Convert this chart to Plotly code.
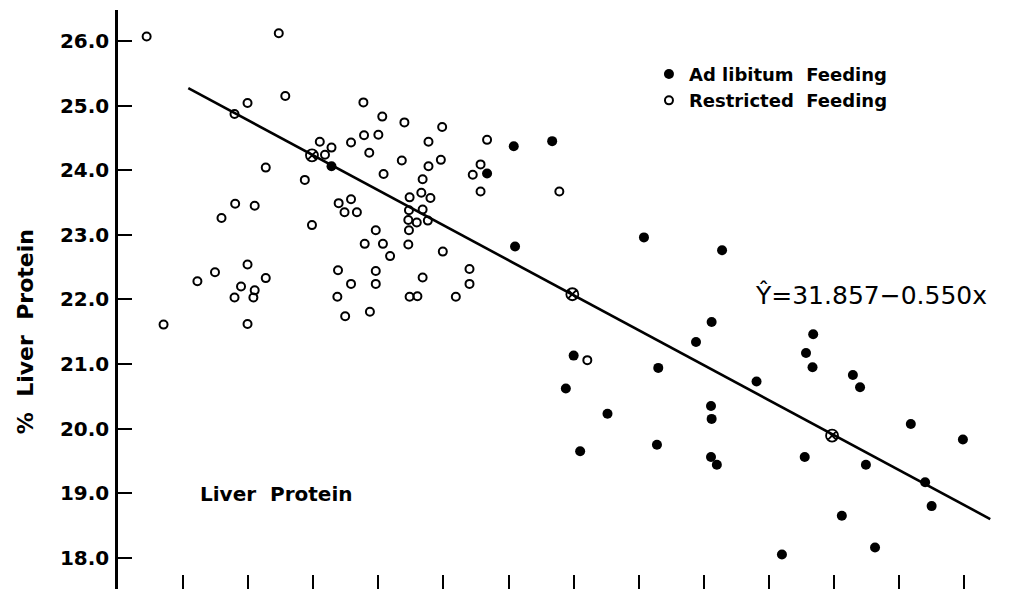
import plotly.graph_objects as go

# Restricted feeding (open circles)
restricted_x = [11.44, 13.47, 13.57, 12.99, 12.79, 13.27, 14.10, 14.18, 14.28, 14.58,
                13.87, 12.80, 13.10, 12.59, 14.39, 14.48, 13.98, 12.99, 12.49, 12.22,
                13.27, 12.89, 13.10, 14.38, 12.79, 13.08, 11.70, 12.99, 14.37, 14.49,
                14.77, 15.06, 15.40, 15.98, 14.78, 15.00, 14.86, 15.77, 16.67, 15.36,
                15.96, 15.77, 16.57, 16.45, 15.08, 15.68, 16.57, 15.66, 15.48, 15.80,
                14.58, 14.67, 15.47, 15.68, 15.46, 15.59, 15.76, 15.47, 14.96, 14.79,
                15.07, 15.46, 15.18, 15.99, 14.96, 16.40, 14.58, 14.96, 15.68, 16.40,
                15.48, 15.60, 16.19, 14.87, 17.78, 18.21]
restricted_y = [26.07, 26.12, 25.15, 25.04, 24.87, 24.04, 24.44, 24.24, 24.35, 24.43,
                23.85, 23.48, 23.45, 23.26, 23.49, 23.35, 23.15, 22.54, 22.42, 22.28,
                22.33, 22.20, 22.14, 22.45, 22.03, 22.03, 21.61, 21.62, 22.04, 21.74,
                25.05, 24.83, 24.74, 24.67, 24.54, 24.55, 24.27, 24.44, 24.47, 24.15,
                24.16, 24.06, 24.09, 23.93, 23.94, 23.86, 23.67, 23.65, 23.58, 23.57,
                23.55, 23.35, 23.38, 23.39, 23.23, 23.19, 23.22, 23.07, 23.07, 22.86,
                22.86, 22.85, 22.67, 22.74, 22.44, 22.47, 22.24, 22.24, 22.34, 22.24,
                22.04, 22.05, 22.04, 21.81, 23.67, 21.06]

# Ad libitum feeding (filled circles)
adlib_x = [17.08, 17.67, 16.67, 17.10, 19.08, 14.28, 18.00, 17.88, 19.30, 18.52,
           18.10, 19.28, 19.88, 20.12, 20.28, 21.68, 21.57, 21.67, 20.81, 22.29,
           22.40, 20.11, 20.12, 23.18, 23.98, 20.11, 20.20, 21.55, 22.49, 23.40,
           23.50, 22.12, 22.63, 21.20]
adlib_y = [24.37, 24.45, 23.95, 22.82, 22.96, 24.06, 21.13, 20.62, 20.94, 20.23,
           19.65, 19.75, 21.34, 21.65, 22.76, 21.46, 21.17, 20.95, 20.73, 20.83,
           20.64, 20.35, 20.15, 20.07, 19.83, 19.56, 19.44, 19.56, 19.44, 19.17,
           18.80, 18.65, 18.16, 18.05]

# Means (circled x) on the regression line
mean_x = [13.98, 17.98, 21.97]
mean_y = [24.23, 22.08, 19.89]

# Regression line end points
line_x = [12.08, 24.40]
line_y = [25.27, 18.60]

y_ticks = [18, 19, 20, 21, 22, 23, 24, 25, 26]
y_tick_labels = ["18.0", "19.0", "20.0", "21.0", "22.0", "23.0", "24.0", "25.0", "26.0"]
x_ticks = list(range(12, 25))

FONT = "DejaVu Sans"

fig = go.Figure()
fig.add_trace(go.Scatter(x=line_x, y=line_y, mode="lines",
                         line=dict(color="black", width=2.6), showlegend=False,
                         hoverinfo="skip"))
fig.add_trace(go.Scatter(x=adlib_x, y=adlib_y, mode="markers", name="Ad libitum  Feeding",
                         marker=dict(symbol="circle", size=10, color="black")))
fig.add_trace(go.Scatter(x=restricted_x, y=restricted_y, mode="markers", name="Restricted  Feeding",
                         marker=dict(symbol="circle-open", size=8, color="black",
                                     line=dict(width=2, color="black"))))
fig.add_trace(go.Scatter(x=mean_x, y=mean_y, mode="markers", showlegend=False,
                         marker=dict(symbol="circle-x-open", size=12, color="black",
                                     line=dict(width=1.8, color="black"))))

fig.update_layout(
    width=1023, height=589,
    margin=dict(l=118, r=23, t=10, b=0),
    paper_bgcolor="white", plot_bgcolor="white",
    font=dict(family=FONT, color="black", size=18),
    legend=dict(x=0.602, y=0.921, xanchor="left", yanchor="top",
                bgcolor="rgba(0,0,0,0)", font=dict(size=18, family=FONT, weight="bold"),
                tracegroupgap=0, itemwidth=30),
    xaxis=dict(range=[11.0, 24.55], showgrid=False, zeroline=False,
               showline=True, linecolor="black", linewidth=2.5,
               ticks="inside", ticklen=14, tickwidth=2, tickcolor="black",
               tickvals=x_ticks, showticklabels=False),
    yaxis=dict(range=[17.517, 26.48], showgrid=False, zeroline=False,
               showline=True, linecolor="black", linewidth=2.5,
               ticks="inside", ticklen=14, tickwidth=2, tickcolor="black",
               tickvals=y_ticks, ticktext=y_tick_labels,
               tickfont=dict(size=20, family=FONT, weight="bold"), ticklabelstandoff=2),
    annotations=[
        dict(text="%  Liver  Protein", xref="paper", yref="paper", x=-0.104, y=0.444,
             textangle=-90, showarrow=False, font=dict(size=22, family=FONT, weight="bold"),
             xanchor="center", yanchor="middle"),
        dict(text="Liver  Protein", xref="paper", yref="paper", x=0.0907, y=0.164,
             showarrow=False, font=dict(size=20, family=FONT, weight="bold"),
             xanchor="left", yanchor="middle"),
        dict(text="Ŷ=31.857−0.550x", xref="paper", yref="paper", x=0.854, y=0.508,
             showarrow=False, font=dict(size=25, family=FONT),
             xanchor="center", yanchor="middle"),
    ],
)

fig.write_html("out.html")
